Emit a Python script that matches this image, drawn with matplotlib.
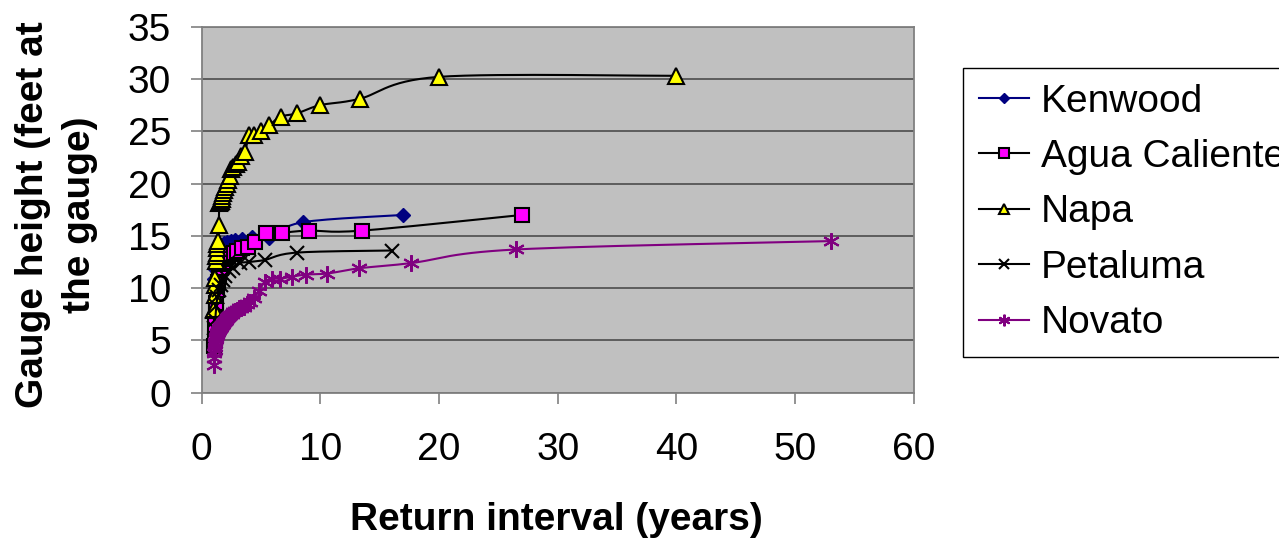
import numpy as np
import matplotlib
matplotlib.use('Agg')
import matplotlib.pyplot as plt
from matplotlib.lines import Line2D

plt.rcParams['font.family'] = ['Liberation Sans', 'DejaVu Sans']

# return interval (years) and gauge height (ft)
kenwood_x = [1.06, 1.13, 1.21, 1.31, 1.42, 1.55, 1.70, 1.89, 2.13, 2.43, 2.83, 3.40, 4.25, 5.67, 8.50, 17.0]
kenwood_y = [10.9, 11.8, 12.6, 13.2, 13.6, 13.9, 14.1, 14.3, 14.4, 14.5, 14.6, 14.7, 14.9, 14.8, 16.3, 17.0]

agua_x = [1.04, 1.08, 1.13, 1.17, 1.23, 1.29, 1.35, 1.42, 1.50, 1.59, 1.69, 1.80, 1.93,
          2.08, 2.25, 2.45, 2.70, 3.00, 3.38, 3.86, 4.50, 5.40, 6.75, 9.00, 13.5, 27.0]
agua_y = [4.5, 5.2, 6.5, 8.0, 8.6, 9.8, 10.6, 11.2, 11.7, 11.9, 12.3, 12.5, 12.8,
          13.0, 13.1, 13.3, 13.4, 13.6, 13.8, 13.9, 14.4, 15.3, 15.3, 15.5, 15.5, 17.0]

napa_x = [1.03, 1.05, 1.08, 1.11, 1.14, 1.18, 1.21, 1.25, 1.29, 1.33, 1.38, 1.43, 1.48,
          1.54, 1.60, 1.67, 1.74, 1.82, 1.90, 2.00, 2.11, 2.22, 2.35, 2.50, 2.67, 2.86,
          3.08, 3.33, 3.64, 4.00, 4.44, 5.00, 5.71, 6.67, 8.00, 10.0, 13.3, 20.0, 40.0]
napa_y = [7.9, 8.0, 9.3, 10.3, 11.0, 12.6, 13.1, 13.4, 13.8, 14.2, 14.5, 16.0, 18.1,
          18.2, 18.3, 18.5, 18.8, 19.1, 19.4, 19.7, 20.0, 20.3, 20.7, 21.4, 21.6, 21.9,
          22.1, 22.6, 23.0, 24.6, 24.6, 25.0, 25.6, 26.4, 26.7, 27.5, 28.1, 30.2, 30.3]

petaluma_x = [1.07, 1.14, 1.23, 1.33, 1.45, 1.60, 1.78, 2.00, 2.29, 2.67, 3.20, 4.00, 5.33, 8.00, 16.0]
petaluma_y = [6.2, 7.0, 8.3, 9.2, 9.8, 10.3, 10.8, 11.2, 11.6, 11.9, 12.4, 12.5, 12.7, 13.4, 13.6]

novato_x = [1.02, 1.04, 1.06, 1.08, 1.10, 1.13, 1.15, 1.18, 1.20, 1.23, 1.26, 1.29, 1.33,
            1.36, 1.39, 1.43, 1.47, 1.51, 1.56, 1.61, 1.66, 1.71, 1.77, 1.83, 1.89, 1.96,
            2.04, 2.12, 2.21, 2.30, 2.41, 2.52, 2.65, 2.79, 2.94, 3.12, 3.31, 3.53, 3.79,
            4.08, 4.42, 4.82, 5.30, 5.89, 6.63, 7.57, 8.83, 10.6, 13.25, 17.67, 26.5, 53.0]
novato_y = [2.7, 3.3, 3.8, 4.1, 4.4, 4.7, 4.9, 5.1, 5.2, 5.3, 5.5, 5.6, 5.7,
            5.8, 5.9, 6.0, 6.1, 6.2, 6.2, 6.3, 6.4, 6.5, 6.6, 6.7, 6.8, 6.9,
            7.0, 7.1, 7.2, 7.3, 7.4, 7.5, 7.7, 7.8, 7.9, 8.1, 8.1, 8.2, 8.5,
            8.7, 9.1, 9.7, 10.6, 10.9, 10.9, 11.1, 11.3, 11.4, 11.9, 12.4, 13.7, 14.5]

x_ticks = [0, 10, 20, 30, 40, 50, 60]
y_ticks = [0, 5, 10, 15, 20, 25, 30, 35]


def smooth(xs, ys, steps=16):
    # excel-style smoothed line (catmull-rom through the points)
    p = np.column_stack([xs, ys]).astype(float)
    n = len(p)
    out = [p[0]]
    t = np.linspace(0, 1, steps)[1:, None]
    for i in range(n - 1):
        p0 = p[max(i - 1, 0)]
        p1 = p[i]
        p2 = p[i + 1]
        p3 = p[min(i + 2, n - 1)]
        c1 = p1 + (p2 - p0) / 6
        c2 = p2 - (p3 - p1) / 6
        seg = (1 - t) ** 3 * p1 + 3 * (1 - t) ** 2 * t * c1 + 3 * (1 - t) * t ** 2 * c2 + t ** 3 * p2
        out.extend(seg)
    out = np.array(out)
    return out[:, 0], out[:, 1]


series = [
    ('Kenwood', kenwood_x, kenwood_y, '#000080', dict(marker='D', ms=7, mfc='#000080', mec='#000080')),
    ('Agua Caliente', agua_x, agua_y, 'black', dict(marker='s', ms=10, mfc='#FF00FF', mec='black', mew=1.5)),
    ('Napa', napa_x, napa_y, 'black', dict(marker='^', ms=11, mfc='#FFFF00', mec='black', mew=1.5)),
    ('Petaluma', petaluma_x, petaluma_y, 'black', dict(marker='x', ms=10, mec='black', mew=1.5)),
    ('Novato', novato_x, novato_y, '#800080', dict(marker=(6, 2, 0), ms=12, mec='#800080', mew=1.5)),
]

fs = 28

fig = plt.figure(figsize=(12.79, 5.44), dpi=100)
ax = fig.add_axes([0.1577, 0.278, 0.5567, 0.673])
ax.set_facecolor('#C0C0C0')

handles = []
for i, (name, xs, ys, col, mk) in enumerate(series):
    sx, sy = smooth(xs, ys)
    ax.plot(sx, sy, color=col, lw=1.5, zorder=3 + i)
    ax.plot(xs, ys, linestyle='none', zorder=3 + i, **mk)
    handles.append(Line2D([], [], color=col, lw=1.5, label=name, **mk))

ax.set_xlim(0, 60)
ax.set_ylim(0, 35)
ax.set_xticks(x_ticks)
ax.set_yticks(y_ticks)
ax.grid(axis='y', color='#555555', lw=1.3, zorder=1)
ax.set_axisbelow(True)
for s in ax.spines.values():
    s.set_color('#808080')
    s.set_linewidth(1.3)
ax.tick_params(direction='out', length=8, width=1.2, color='#808080', labelsize=fs)
ax.tick_params(axis='x', pad=20)
ax.tick_params(axis='y', pad=14)

fig.text(0.435, 0.045, 'Return interval (years)', ha='center', va='center', fontsize=fs, fontweight='bold')
fig.text(0.044, 0.605, 'Gauge height (feet at\nthe gauge)', ha='center', va='center', rotation=90,
         fontsize=fs, fontweight='bold', multialignment='center', linespacing=1.4)

# legend runs off the right edge, as in the original
leg = ax.legend(handles=handles, loc='upper left', bbox_to_anchor=(963 / 1279, 1 - 68 / 544),
                bbox_transform=fig.transFigure, fontsize=fs, frameon=True, fancybox=False,
                edgecolor='black', framealpha=1, handlelength=1.3, handletextpad=0.3,
                labelspacing=0.5, borderpad=0.4, markerscale=0.7, borderaxespad=0)
leg.get_frame().set_linewidth(1.0)

fig.savefig('out.png', dpi=100)
